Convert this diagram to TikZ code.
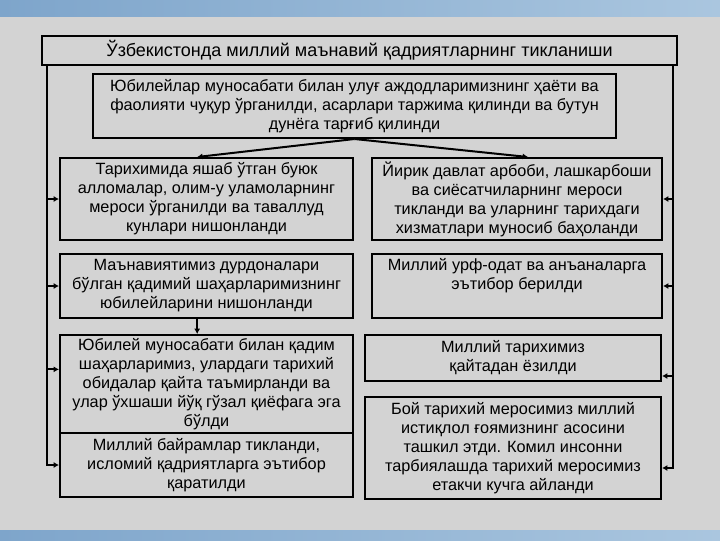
\documentclass[tikz,border=0pt]{standalone}
\usepackage{fontspec}
\setmainfont{Liberation Sans}
\usetikzlibrary{arrows.meta}
\definecolor{bggray}{HTML}{D3D3D3}
\definecolor{stripL}{HTML}{7EA5CB}
\definecolor{stripR}{HTML}{AAC6DF}
\begin{document}
\begin{tikzpicture}[x=0.75pt,y=-0.75pt,
  blk/.style={draw=black,line width=1.5pt,inner sep=0pt,align=center,
    font=\fontsize{12.2}{14.3}\selectfont},
  line/.style={line width=1.5pt},
  arr/.style={line width=1.5pt,-{Latex[length=4pt,width=4.5pt]}}]
  \useasboundingbox (0,0) rectangle (720,540);
  \fill[bggray] (0,0) rectangle (720,540);
  \shade[left color=stripL,right color=stripR] (0,0) rectangle (720,16);
  \shade[left color=stripL,right color=stripR] (0,530) rectangle (720,540);
  \node[blk,minimum width=635*0.75pt,minimum height=29*0.75pt,
    font=\fontsize{13.5}{16}\selectfont] (title) at (359.5,50.5)
    {Ўзбекистонда миллий маънавий қадриятларнинг тикланиши};
  \node[blk,minimum width=523*0.75pt,minimum height=64*0.75pt] (jub) at (354.5,106)
    {Юбилейлар муносабати билан улуғ аждодларимизнинг ҳаёти ва\\
     фаолияти чуқур ўрганилди, асарлари таржима қилинди ва бутун\\
     дунёга тарғиб қилинди};
  \node[blk,minimum width=293*0.75pt,minimum height=82*0.75pt] (tarix) at (206.5,199)
    {Тарихимида яшаб ўтган буюк\\ алломалар, олим-у уламоларнинг\\
     мероси ўрганилди ва таваллуд\\ кунлари нишонланди};
  \node[blk,minimum width=290*0.75pt,minimum height=82*0.75pt] (arbob) at (517,199)
    {Йирик давлат арбоби, лашкарбоши\\ ва сиёсатчиларнинг мероси\\
     тикланди ва уларнинг тарихдаги\\ хизматлари муносиб баҳоланди};
  \node[blk,minimum width=293*0.75pt,minimum height=64*0.75pt] (shahar) at (206.5,286)
    {Маънавиятимиз дурдоналари\\ бўлган қадимий шаҳарларимизнинг\\
     юбилейларини нишонланди};
  \node[blk,minimum width=290*0.75pt,minimum height=64*0.75pt] (urf) at (517,286)
    {Миллий урф-одат ва анъаналарга\\ эътибор берилди\\ \strut};
  \node[blk,minimum width=293*0.75pt,minimum height=98*0.75pt] (obida) at (206.5,384)
    {Юбилей муносабати билан қадим\\ шаҳарларимиз, улардаги тарихий\\
     обидалар қайта таъмирланди ва\\ улар ўхшаши йўқ гўзал қиёфага эга\\ бўлди};
  \node[blk,minimum width=293*0.75pt,minimum height=64*0.75pt] (bayram) at (206.5,465)
    {Миллий байрамлар тикланди,\\ исломий қадриятларга эътибор\\ қаратилди};
  \node[blk,minimum width=296*0.75pt,minimum height=46*0.75pt] (yozil) at (513,358)
    {Миллий тарихимиз\\ қайтадан ёзилди};
  \node[blk,minimum width=296*0.75pt,minimum height=102*0.75pt] (meros) at (513,448)
    {Бой тарихий меросимиз миллий\\ истиқлол ғоямизнинг асосини\\
     ташкил этди. Комил инсонни\\ тарбиялашда тарихий меросимиз\\
     етакчи кучга айланди};
  \coordinate (lt) at ([xshift=4.5pt]title.south west);
  \coordinate (rt) at ([xshift=-3.75pt]title.south east);
  \draw[arr] (jub.south) -- ([xshift=-7pt]tarix.north);
  \draw[arr] (jub.south) -- ([xshift=8.25pt]arbob.north);
  \draw[arr] ([xshift=-7pt]shahar.south) -- ([xshift=-7pt]obida.north);
  \draw[arr] (lt) |- (bayram.west);
  \draw[arr] (lt |- tarix.west) -- (tarix.west);
  \draw[arr] (lt |- shahar.west) -- (shahar.west);
  \draw[arr] ([yshift=11pt]obida.west -| lt) -- ([yshift=11pt]obida.west);
  \draw[arr] (rt) |- ([yshift=-15pt]meros.east);
  \draw[arr] (rt |- arbob.east) -- (arbob.east);
  \draw[arr] (rt |- urf.east) -- (urf.east);
  \draw[arr] ([yshift=-13.5pt]yozil.east -| rt) -- ([yshift=-13.5pt]yozil.east);
\end{tikzpicture}
\end{document}
